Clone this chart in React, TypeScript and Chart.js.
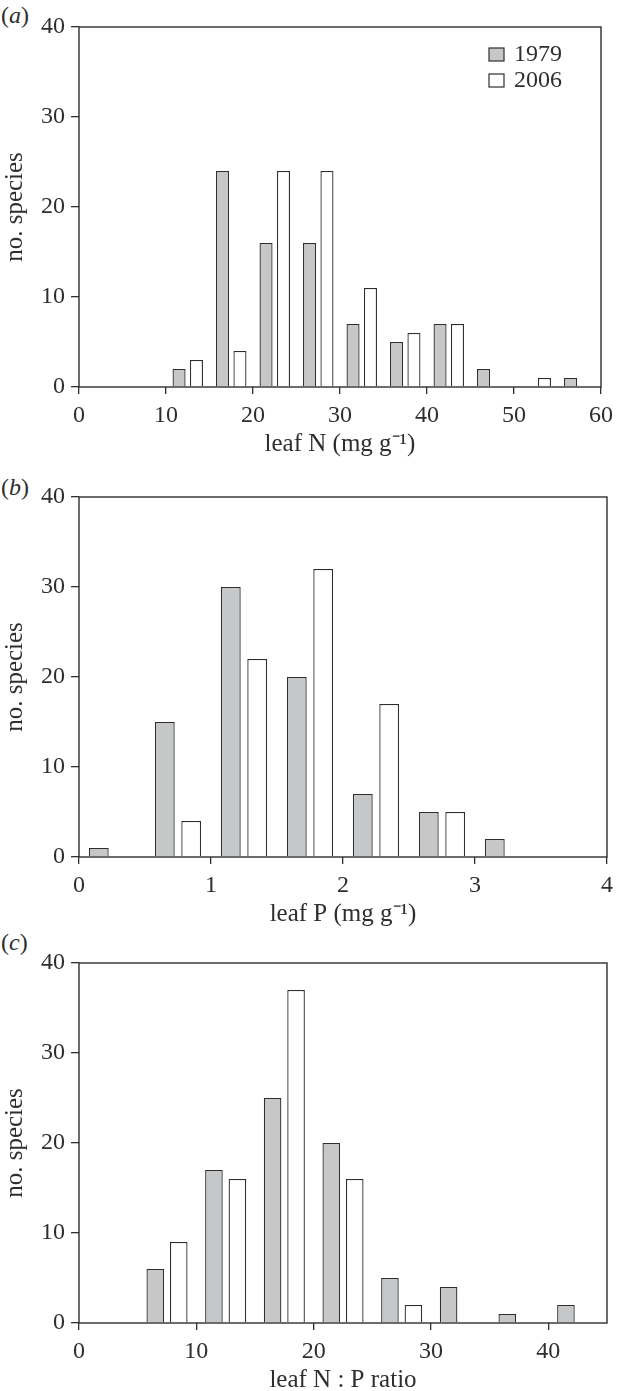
import React, { useEffect, useRef } from "react";
import { Chart, registerables } from "chart.js";

Chart.register(...registerables);

// ---------- data ----------
const seriesNames = ["1979", "2006"];
const yTicks = [0, 10, 20, 30, 40];

// (a) leaf N (mg g-1): bin starts, width 5
const nBins = [10, 15, 20, 25, 30, 35, 40, 45, 50, 55];
const n1979 = [2, 24, 16, 16, 7, 5, 7, 2, 0, 1];
const n2006 = [3, 4, 24, 24, 11, 6, 7, 0, 1, 0];
const nTicks = [0, 10, 20, 30, 40, 50, 60];

// (b) leaf P (mg g-1): bin starts, width 0.5
const pBins = [0, 0.5, 1, 1.5, 2, 2.5, 3];
const p1979 = [1, 15, 30, 20, 7, 5, 2];
const p2006 = [0, 4, 22, 32, 17, 5, 0];
const pTicks = [0, 1, 2, 3, 4];

// (c) leaf N:P ratio: bin starts, width 5
const rBins = [5, 10, 15, 20, 25, 30, 35, 40];
const r1979 = [6, 17, 25, 20, 5, 4, 1, 2];
const r2006 = [9, 16, 37, 16, 2, 0, 0, 0];
const rTicks = [0, 10, 20, 30, 40];

// ---------- style ----------
const INK = "#2e2e2e";
const GREY = "#c6c7c9";
const FONT = "'Liberation Serif', 'Times New Roman', serif";
const FS_TICK = 24;
const FS_TITLE = 25;

Chart.defaults.font.family = FONT;
Chart.defaults.font.size = FS_TICK;
Chart.defaults.color = INK;

const framePlugin = {
  id: "frame",
  afterDraw(chart: any) {
    const { ctx, chartArea } = chart;
    ctx.save();
    ctx.strokeStyle = INK;
    ctx.lineWidth = 1.4;
    ctx.strokeRect(chartArea.left, chartArea.top, chartArea.right - chartArea.left, chartArea.bottom - chartArea.top);
    ctx.restore();
  },
};

const legendPlugin = {
  id: "boxlegend",
  afterDraw(chart: any) {
    if (!chart.options.plugins.boxlegend?.show) return;
    const { ctx, chartArea } = chart;
    const x0 = chartArea.right - 112;
    const rows = [
      { label: seriesNames[0], fill: GREY, y: chartArea.top + 21 },
      { label: seriesNames[1], fill: "#ffffff", y: chartArea.top + 47 },
    ];
    ctx.save();
    ctx.font = `${FS_TICK}px ${FONT}`;
    ctx.textBaseline = "middle";
    ctx.textAlign = "left";
    rows.forEach((r) => {
      ctx.fillStyle = r.fill;
      ctx.fillRect(x0, r.y, 15, 13);
      ctx.strokeStyle = INK;
      ctx.lineWidth = 1.2;
      ctx.strokeRect(x0, r.y, 15, 13);
      ctx.fillStyle = INK;
      ctx.fillText(r.label, x0 + 25, r.y + 6.5);
    });
    ctx.restore();
  },
};

type PanelProps = {
  top: number;
  bins: number[];
  a: number[];
  b: number[];
  ticks: number[];
  xMax: number;
  xTitle: string;
  legend?: boolean;
};

const CANVAS_H = 459;

function Panel({ top, bins, a, b, ticks, xMax, xTitle, legend }: PanelProps) {
  const ref = useRef<HTMLCanvasElement>(null);
  useEffect(() => {
    const w = bins[1] - bins[0];
    const pts = (vals: number[], frac: number) =>
      bins.map((s, i) => ({ x: s + frac * w, y: vals[i] })).filter((p) => p.y > 0);
    const step = ticks[1] - ticks[0];
    const barBase = {
      borderColor: INK,
      borderWidth: 1.3,
      borderSkipped: "start",
      grouped: false,
      barPercentage: 0.75,
      categoryPercentage: 1,
    };
    const chart = new Chart(ref.current as HTMLCanvasElement, {
      type: "bar",
      data: {
        datasets: [
          { ...barBase, label: seriesNames[0], data: pts(a, 0.3), backgroundColor: GREY },
          { ...barBase, label: seriesNames[1], data: pts(b, 0.7), backgroundColor: "#ffffff" },
        ],
      } as any,
      options: {
        animation: false,
        responsive: false,
        devicePixelRatio: 1,
        layout: { padding: { top: 27, right: 13, left: 0, bottom: 0 } },
        plugins: {
          legend: { display: false },
          tooltip: { enabled: false },
          boxlegend: { show: !!legend },
        } as any,
        scales: {
          x: {
            type: "linear",
            offset: false,
            min: ticks[0],
            max: xMax,
            border: { display: false },
            grid: { offset: false, drawOnChartArea: false, drawTicks: true, tickLength: 7, color: INK, lineWidth: 1.3 },
            ticks: { stepSize: step, includeBounds: false, padding: 7, color: INK, maxRotation: 0, font: { size: FS_TICK } },
            title: { display: true, text: xTitle, color: INK, font: { size: FS_TITLE }, padding: { top: 0, bottom: 0 } },
            afterFit(scale: any) {
              scale.height = 72;
            },
          },
          y: {
            min: yTicks[0],
            max: yTicks[yTicks.length - 1],
            border: { display: false },
            grid: { offset: false, drawOnChartArea: false, drawTicks: true, tickLength: 8, color: INK, lineWidth: 1.3 },
            ticks: { stepSize: yTicks[1] - yTicks[0], padding: 6, color: INK, font: { size: FS_TICK } },
            title: { display: true, text: "no. species", color: INK, font: { size: FS_TITLE }, padding: { top: 0, bottom: 0 } },
            afterFit(scale: any) {
              scale.width = 79;
            },
          },
        },
      } as any,
      plugins: [framePlugin, legendPlugin],
    });
    return () => chart.destroy();
  }, []);
  return (
    <canvas
      ref={ref}
      width={620}
      height={CANVAS_H}
      style={{ position: "absolute", left: 0, top, width: 620, height: CANVAS_H }}
    />
  );
}

function PanelLabel({ top, letter }: { top: number; letter: string }) {
  return (
    <div
      style={{
        position: "absolute",
        left: 1,
        top,
        fontFamily: FONT,
        fontSize: 24,
        lineHeight: "28px",
        color: INK,
      }}
    >
      (<i>{letter}</i>)
    </div>
  );
}

export default function App() {
  return (
    <div style={{ position: "absolute", left: 0, top: 0, width: 620, height: 1391, background: "#fff", overflow: "hidden" }}>
      <PanelLabel top={1} letter="a" />
      <PanelLabel top={473} letter="b" />
      <PanelLabel top={928} letter="c" />
      <Panel top={0} bins={nBins} a={n1979} b={n2006} ticks={nTicks} xMax={60} xTitle="leaf N (mg g⁻¹)" legend />
      <Panel top={470} bins={pBins} a={p1979} b={p2006} ticks={pTicks} xMax={4} xTitle="leaf P (mg g⁻¹)" />
      <Panel top={936} bins={rBins} a={r1979} b={r2006} ticks={rTicks} xMax={45} xTitle="leaf N : P ratio" />
    </div>
  );
}
